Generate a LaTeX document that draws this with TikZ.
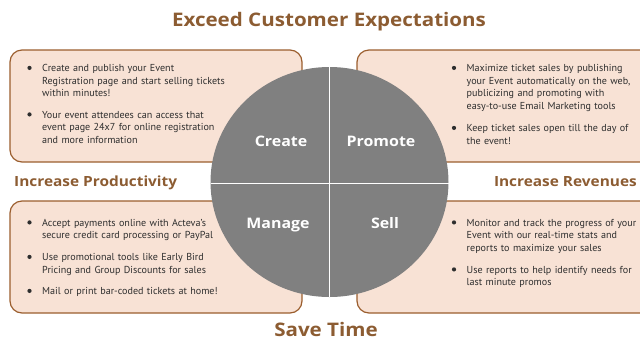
\documentclass[tikz,border=0pt]{standalone}
\usepackage{fontspec}
\setmainfont{PT Sans}
\newfontfamily\headfont{Open Sans}[FakeStretch=1.1]
\usetikzlibrary{calc}

\definecolor{titlebrown}{HTML}{8C5C32}
\definecolor{boxfill}{HTML}{F8E2D5}
\definecolor{boxline}{HTML}{9B5E2E}
\definecolor{discgray}{HTML}{808080}
\definecolor{bodytext}{HTML}{2E2E2E}

\tikzset{
  infobox/.style={fill=boxfill, draw=boxline, line width=1.2pt, rounded corners=12pt},
  heading/.style={text=titlebrown, inner sep=0pt, font=\headfont\bfseries\fontsize{14}{16}\selectfont},
  bigheading/.style={text=titlebrown, inner sep=0pt, anchor=base, font=\headfont\bfseries\fontsize{18.7}{22}\selectfont},
  quarter/.style={text=white, inner sep=0pt, anchor=base, font=\headfont\bfseries\fontsize{14.5}{17}\selectfont},
  itemtext/.style={anchor=base west, inner sep=0pt, text width=190pt, align=left,
    text=bodytext, font=\fontsize{10.1}{12.6}\selectfont},
}

\begin{document}
\begin{tikzpicture}[x=1pt, y=-1pt]
      \useasboundingbox (0,0) rectangle (640,341);

      \coordinate (center) at (329.5,182);
      \coordinate (discTop) at (329.5,66);
      \coordinate (discBottom) at (329.5,297);
      \coordinate (discLeft) at (210.5,183.5);
      \coordinate (discRight) at (448.5,183.5);

      % the four boxes
      \draw[infobox] (10,50) rectangle (302,162);
      \draw[infobox] (357,50) rectangle (660,162);
      \draw[infobox] (10,201) rectangle (302,313);
      \draw[infobox] (357,201) rectangle (660,313);

      % the disc
      \fill[discgray] (center) ellipse [x radius=119, y radius=115];
      \draw[white, line width=1.6pt] (discTop) -- (discBottom);
      \draw[white, line width=1.6pt] (discLeft) -- (discRight);

      \node[quarter] (create) at (281,146.7) {Create};
      \node[quarter] (promote) at (381,146.7) {Promote};
      \node[quarter] (manage) at (278,228.3) {Manage};
      \node[quarter] (sell) at (385,228.3) {Sell};

      % headings
      \node[bigheading] (exceed) at (329,26.7) {Exceed Customer Expectations};
      \node[bigheading] (saveTime) at (326,336.5) {Save Time};
      \node[heading, anchor=base west] (productivity) at (14,186.7) {Increase Productivity};
      \node[heading, anchor=base east] (revenues) at (637,186.7) {Increase Revenues};

      % items
      \coordinate (createA) at (42,71.5);
      \coordinate (createB) at (42,118);
      \coordinate (promoteA) at (466.5,71.5);
      \coordinate (promoteB) at (466.5,131.5);
      \coordinate (manageA) at (42,226);
      \coordinate (manageB) at (42,260.5);
      \coordinate (manageC) at (42,294.5);
      \coordinate (sellA) at (466.5,226);
      \coordinate (sellB) at (466.5,273);

      \node[itemtext] (createTextA) at (createA) {Create and publish your Event\\Registration page and start selling tickets\\within minutes!};
      \node[itemtext] (createTextB) at (createB) {Your event attendees can access that\\event page 24x7 for online registration\\and more information};
      \node[itemtext] (promoteTextA) at (promoteA) {Maximize ticket sales by publishing\\your Event automatically on the web,\\publicizing and promoting with\\easy-to-use Email Marketing tools};
      \node[itemtext] (promoteTextB) at (promoteB) {Keep ticket sales open till the day of\\the event!};
      \node[itemtext] (manageTextA) at (manageA) {Accept payments online with Acteva’s\\secure credit card processing or PayPal};
      \node[itemtext] (manageTextB) at (manageB) {Use promotional tools like Early Bird\\Pricing and Group Discounts for sales};
      \node[itemtext] (manageTextC) at (manageC) {Mail or print bar-coded tickets at home!};
      \node[itemtext] (sellTextA) at (sellA) {Monitor and track the progress of your\\Event with our real-time stats and\\reports to maximize your sales};
      \node[itemtext] (sellTextB) at (sellB) {Use reports to help identify needs for\\last minute promos};

      \foreach \item in {createA,createB,promoteA,promoteB,manageA,manageB,manageC,sellA,sellB}
        \fill[bodytext] ($(\item)+(-12.5,-3.6)$) circle (2.1);
    \end{tikzpicture}
\end{document}
